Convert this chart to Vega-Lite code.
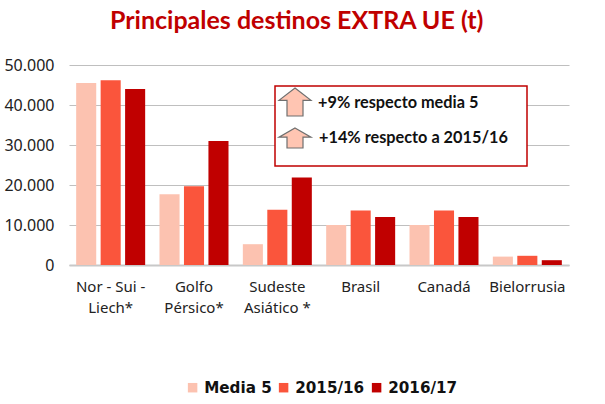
{
"$schema":"https://vega.github.io/schema/vega-lite/v6.json",
"width":500,"height":200,
"autosize":{"type":"none"},
"padding":{"left":69,"top":65,"right":36,"bottom":139},
"background":"white",
"title":{"text":"Principales destinos EXTRA UE (t)","font":"Lato","fontWeight":"bold","fontSize":25,"color":"#c00000","anchor":"start","offset":23,"dx":106},
"config":{"view":{"stroke":null}},
"datasets":{
"bars":[
{"destino":"Nor - Sui - Liech*","serie":"Media 5","t":45500},{"destino":"Nor - Sui - Liech*","serie":"2015/16","t":46200},{"destino":"Nor - Sui - Liech*","serie":"2016/17","t":44000},
{"destino":"Golfo Pérsico*","serie":"Media 5","t":17700},{"destino":"Golfo Pérsico*","serie":"2015/16","t":19700},{"destino":"Golfo Pérsico*","serie":"2016/17","t":31000},
{"destino":"Sudeste Asiático *","serie":"Media 5","t":5200},{"destino":"Sudeste Asiático *","serie":"2015/16","t":13800},{"destino":"Sudeste Asiático *","serie":"2016/17","t":21900},
{"destino":"Brasil","serie":"Media 5","t":10000},{"destino":"Brasil","serie":"2015/16","t":13600},{"destino":"Brasil","serie":"2016/17","t":12000},
{"destino":"Canadá","serie":"Media 5","t":10000},{"destino":"Canadá","serie":"2015/16","t":13600},{"destino":"Canadá","serie":"2016/17","t":12000},
{"destino":"Bielorrusia","serie":"Media 5","t":2100},{"destino":"Bielorrusia","serie":"2015/16","t":2300},{"destino":"Bielorrusia","serie":"2016/17","t":1200}
]},
"layer":[
{"data":{"name":"bars"},"mark":{"type":"bar"},
"encoding":{
"x":{"field":"destino","type":"nominal","sort":null,"scale":{"paddingInner":0.172,"paddingOuter":0.086},
"axis":{"title":null,"labelAngle":0,"labelFont":"Noto Sans","labelFontSize":15,"labelColor":"#222222","ticks":false,"domainColor":"#c8c8c8","domainWidth":2,"labelPadding":14,"labelLineHeight":21,
"labelExpr":"datum.label=='Nor - Sui - Liech*'?['Nor - Sui -','Liech*']:datum.label=='Golfo Pérsico*'?['Golfo','Pérsico*']:datum.label=='Sudeste Asiático *'?['Sudeste','Asiático *']:datum.label"}},
"xOffset":{"field":"serie","type":"nominal","sort":["Media 5","2015/16","2016/17"],"scale":{"paddingInner":0.18,"paddingOuter":0}},
"y":{"field":"t","type":"quantitative","scale":{"domain":[0,50000],"nice":false},
"axis":{"title":null,"values":[0,10000,20000,30000,40000,50000],"labelOverlap":false,"format":",.0f","labelExpr":"replace(datum.label,',','.')","labelFont":"Noto Sans","labelFontSize":16,"labelColor":"#222222","ticks":false,"domain":false,"grid":true,"gridColor":"#bfbfbf","gridWidth":1,"labelPadding":15}},
"color":{"field":"serie","type":"nominal","sort":["Media 5","2015/16","2016/17"],"scale":{"domain":["Media 5","2015/16","2016/17"],"range":["#fcc2b0","#fa553c","#c00000"]},
"legend":{"title":null,"orient":"none","direction":"horizontal","legendX":116,"legendY":315,"symbolType":"square","symbolSize":90,"symbolStrokeWidth":0,"labelFont":"DejaVu Sans","labelFontWeight":"bold","labelFontSize":15.2,"labelColor":"#111111","columnPadding":4,"labelOffset":4}}
}},
{"data":{"values":[{"x":206,"x2":458,"y":44750,"y2":24750}]},"mark":{"type":"rect","fill":"white","stroke":"#c00000","strokeWidth":1.5},
"encoding":{"x":{"field":"x","type":"quantitative","scale":{"domain":[0,500],"nice":false,"zero":false},"axis":null},"x2":{"field":"x2"},"y":{"field":"y","type":"quantitative","axis":null},"y2":{"field":"y2"}}},
{"data":{"values":[{"x":226,"y":40750}]},"mark":{"type":"point","filled":true,"fill":"#ffc5b2","fillOpacity":1,"stroke":"#6f6f6f","strokeWidth":1.2,"size":1024,
"shape":"M0,-0.875L1,-0.1L0.5,-0.1L0.5,0.875L-0.5,0.875L-0.5,-0.1L-1,-0.1Z"},
"encoding":{"x":{"field":"x","type":"quantitative","scale":{"domain":[0,500],"nice":false,"zero":false},"axis":null},"y":{"field":"y","type":"quantitative","axis":null}}},
{"data":{"values":[{"x":226,"y":31750}]},"mark":{"type":"point","filled":true,"fill":"#ffc5b2","fillOpacity":1,"stroke":"#6f6f6f","strokeWidth":1.2,"size":1024,
"shape":"M0,-0.625L1,-0.05L0.5,-0.05L0.5,0.625L-0.5,0.625L-0.5,-0.05L-1,-0.05Z"},
"encoding":{"x":{"field":"x","type":"quantitative","scale":{"domain":[0,500],"nice":false,"zero":false},"axis":null},"y":{"field":"y","type":"quantitative","axis":null}}},
{"data":{"values":[{"x":249,"y":40500,"texto":"+9% respecto media 5"},{"x":250,"y":31800,"texto":"+14% respecto a 2015/16"}]},"mark":{"type":"text","align":"left","baseline":"middle","font":"Lato","fontWeight":"bold","fontSize":16.3,"color":"#111111"},
"encoding":{"x":{"field":"x","type":"quantitative","scale":{"domain":[0,500],"nice":false,"zero":false},"axis":null},"y":{"field":"y","type":"quantitative","axis":null},"text":{"field":"texto"}}}
],
"resolve":{"scale":{"x":"independent"},"axis":{"x":"independent","y":"independent"}}
}
